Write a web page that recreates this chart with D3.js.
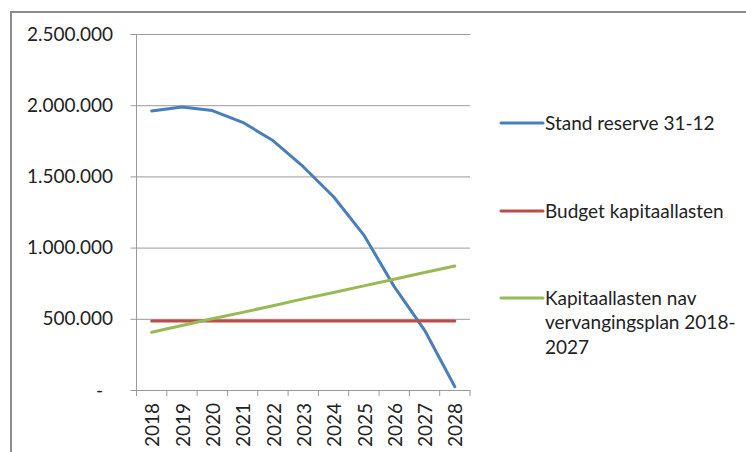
<!DOCTYPE html>
<html>
<head>
<meta charset="utf-8">
<script src="https://cdn.jsdelivr.net/npm/d3@7"></script>
<style>
  body { margin: 0; background: #fff; }
  svg { display: block; }
  text { font-family: Lato, "Liberation Sans", sans-serif; fill: #222; }
</style>
</head>
<body>
<script>
// chart size
var width = 746,
    height = 452;

// data
const years = ['2018', '2019', '2020', '2021', '2022', '2023', '2024', '2025', '2026', '2027', '2028'];
const standReserve = [1960000, 1988000, 1962000, 1880000, 1752000, 1568000, 1357000, 1088000, 726000, 421000, 23000];
const budgetKapitaallasten = [485000, 485000, 485000, 485000, 485000, 485000, 485000, 485000, 485000, 485000, 485000];
const kapitaallastenPlan = [405000, 453000, 500000, 545000, 592000, 640000, 685000, 731000, 778000, 825000, 871000];
const yTicks = [0, 500000, 1000000, 1500000, 2000000, 2500000];
const yTickLabels = ['-', '500.000', '1.000.000', '1.500.000', '2.000.000', '2.500.000'];

const series = [
  { name: ['Stand reserve 31-12'], values: standReserve, color: '#4a7ebb' },
  { name: ['Budget kapitaallasten'], values: budgetKapitaallasten, color: '#be4b48' },
  { name: ['Kapitaallasten nav', 'vervangingsplan 2018-', '2027'], values: kapitaallastenPlan, color: '#98b954' }
];

// plot area
const plotLeft = 136.5, plotRight = 470, plotTop = 34, plotBottom = 390;

var svg = d3.select('body').append('svg')
    .attr('width', width)
    .attr('height', height);

// outer chart frame (runs past the window on the right and bottom)
svg.append('rect')
    .attr('x', 11)
    .attr('y', 12)
    .attr('width', 800)
    .attr('height', 500)
    .attr('fill', 'none')
    .attr('stroke', '#8c8c8c')
    .attr('stroke-width', 2);

var x = d3.scaleBand()
    .domain(years)
    .range([plotLeft, plotRight]);

var y = d3.scaleLinear()
    .domain([0, 2500000])
    .range([plotBottom, plotTop]);

// horizontal gridlines + y axis
var yAxis = d3.axisLeft(y)
    .tickValues(yTicks)
    .tickSize(-(plotRight - plotLeft))
    .tickFormat('');

var gy = svg.append('g')
    .attr('transform', 'translate(' + plotLeft + ',0)')
    .call(yAxis);
gy.select('.domain').remove();
gy.selectAll('.tick line')
    .attr('x1', -6)
    .attr('stroke', '#9a9a9a')
    .attr('stroke-width', 1);

svg.append('line')
    .attr('x1', plotLeft).attr('x2', plotLeft)
    .attr('y1', plotTop).attr('y2', plotBottom)
    .attr('stroke', '#9a9a9a');

svg.selectAll('.ylabel')
    .data(yTicks)
    .enter()
    .append('text')
    .attr('class', 'ylabel')
    .attr('x', function(d) { return d === 0 ? 103 : 113; })
    .attr('y', function(d) { return y(d); })
    .attr('dy', '0.35em')
    .attr('text-anchor', 'end')
    .style('font-size', '19px')
    .text(function(d, i) { return yTickLabels[i]; });

// x axis
var gx = svg.append('g')
    .attr('transform', 'translate(0,' + plotBottom + ')')
    .call(d3.axisBottom(x).tickSize(0).tickFormat(''));
gx.select('.domain')
    .attr('stroke', '#9a9a9a');

var boundaries = years.map(function(d) { return x(d); }).concat([plotRight]);
gx.selectAll('.bound')
    .data(boundaries)
    .enter()
    .append('line')
    .attr('class', 'bound')
    .attr('x1', function(d) { return d; })
    .attr('x2', function(d) { return d; })
    .attr('y1', 0)
    .attr('y2', 6)
    .attr('stroke', '#9a9a9a');

svg.selectAll('.xlabel')
    .data(years)
    .enter()
    .append('text')
    .attr('class', 'xlabel')
    .attr('transform', function(d) {
      return 'translate(' + (x(d) + x.bandwidth() / 2 + 1) + ',' + (plotBottom + 13) + ') rotate(-90)';
    })
    .attr('dy', '0.35em')
    .attr('text-anchor', 'end')
    .style('font-size', '19px')
    .text(function(d) { return d; });

// lines (straight segments, like the original)
var line = d3.line()
    .x(function(d, i) { return x(years[i]) + x.bandwidth() / 2; })
    .y(function(d) { return y(d); });

svg.selectAll('.series')
    .data(series)
    .enter()
    .append('path')
    .attr('class', 'series')
    .attr('d', function(s) { return line(s.values); })
    .attr('fill', 'none')
    .attr('stroke', function(s) { return s.color; })
    .attr('stroke-width', 3)
    .attr('stroke-linejoin', 'round')
    .attr('stroke-linecap', 'round');

// legend
const legendY = [123, 211, 298];
var lg = svg.selectAll('.legend')
    .data(series)
    .enter()
    .append('g')
    .attr('class', 'legend')
    .attr('transform', function(d, i) { return 'translate(501,' + legendY[i] + ')'; });

lg.append('line')
    .attr('x1', 0).attr('x2', 42)
    .attr('y1', 0).attr('y2', 0)
    .attr('stroke', function(s) { return s.color; })
    .attr('stroke-width', 3)
    .attr('stroke-linecap', 'round');

lg.append('text')
    .attr('x', 44)
    .style('font-size', '19px')
    .selectAll('tspan')
    .data(function(s) { return s.name; })
    .enter()
    .append('tspan')
    .attr('x', 44)
    .attr('y', function(d, i) { return i * 24.5; })
    .attr('dy', '0.35em')
    .text(function(d) { return d; });
</script>
</body>
</html>
